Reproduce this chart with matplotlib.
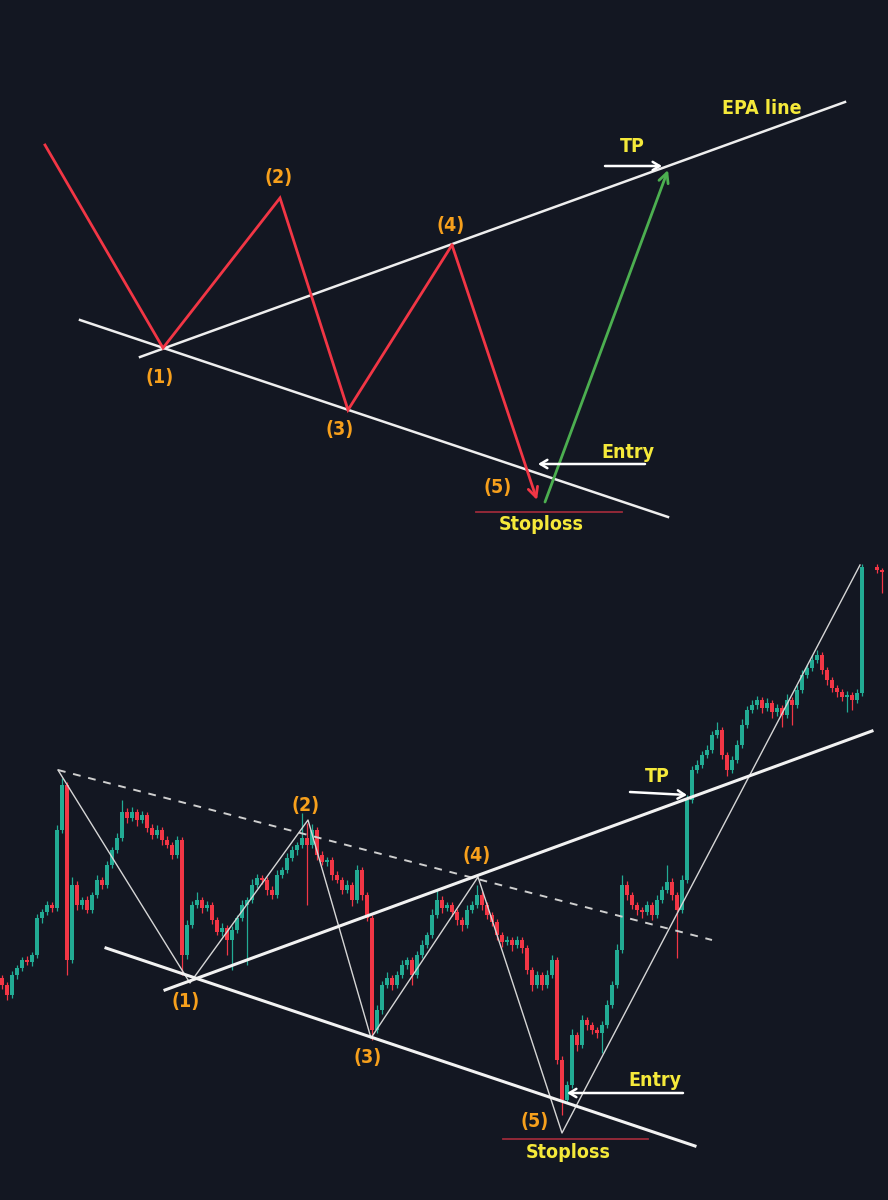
import matplotlib.pyplot as plt

# --- colours ---
bg = '#131722'
up_col = '#22ab94'
dn_col = '#f23645'
orange = '#f7a01c'
yellow = '#f5e93a'
sl_col = '#9c2a3a'
fnt = ['Liberation Sans Narrow', 'DejaVu Sans']

# --- top schematic (image pixel coords) ---
wave_x = [45, 163, 280, 348, 452, 537]
wave_y = [145, 348, 198, 410, 245, 500]
breakout_x = [545, 668]
breakout_y = [502, 170]
epa_x = [140, 845]
epa_y = [357, 102]
support_x = [80, 668]
support_y = [320, 517]
top_labels = ['(1)', '(2)', '(3)', '(4)', '(5)']
top_label_x = [160, 279, 340, 451, 498]
top_label_y = [377, 178, 430, 226, 488]

# --- bottom chart: candle closes (pixel y, smaller = higher price) ---
first_open = 978
closes = [985, 995, 975, 968, 960, 962, 955, 918, 912, 905,
          908, 830, 785, 960, 885, 905, 900, 910, 895, 880,
          885, 865, 850, 838, 812, 818, 812, 820, 815, 828,
          835, 830, 840, 845, 855, 840, 955, 925, 905, 900,
          908, 905, 920, 932, 928, 940, 930, 918, 905, 900,
          885, 878, 880, 890, 895, 875, 870, 858, 850, 845,
          838, 845, 830, 855, 862, 860, 875, 880, 890, 885,
          900, 870, 895, 918, 1030, 1010, 985, 978, 985, 975,
          965, 960, 975, 955, 945, 935, 915, 900, 908, 905,
          912, 920, 925, 910, 905, 895, 905, 915, 922, 935,
          942, 940, 945, 940, 948, 970, 985, 975, 985, 975,
          960, 1060, 1100, 1085, 1035, 1045, 1020, 1025, 1030, 1033,
          1025, 1005, 985, 950, 885, 895, 905, 910, 912, 905,
          915, 900, 890, 882, 895, 910, 880, 800, 770, 765,
          755, 750, 735, 730, 755, 770, 760, 745, 725, 710,
          705, 700, 708, 703, 712, 708, 715, 700, 705, 690,
          675, 668, 660, 655, 670, 680, 688, 692, 697, 695,
          700, 693, 567, None, None, 570, 572]
wick_up = [3, 3, 4, 3, 3, 4, 3, 4, 3, 4,
           3, 5, 7, 3, 8, 4, 3, 4, 3, 5,
           3, 4, 3, 5, 12, 4, 5, 3, 4, 3,
           4, 5, 3, 4, 3, 4, 3, 5, 4, 8,
           3, 4, 3, 3, 5, 3, 4, 3, 5, 3,
           6, 4, 3, 3, 4, 5, 3, 5, 4, 3,
           25, 15, 6, 3, 4, 3, 3, 4, 3, 5,
           3, 5, 3, 3, 3, 5, 4, 6, 3, 4,
           5, 3, 3, 4, 5, 3, 6, 10, 4, 3,
           3, 3, 3, 5, 4, 10, 4, 3, 3, 3,
           3, 4, 3, 4, 3, 3, 3, 4, 3, 5,
           5, 3, 4, 4, 6, 3, 5, 3, 3, 3,
           4, 5, 4, 6, 10, 4, 3, 3, 3, 4,
           3, 5, 4, 17, 4, 3, 5, 5, 4, 5,
           4, 5, 4, 8, 3, 3, 4, 5, 6, 4,
           5, 4, 3, 5, 3, 4, 3, 6, 3, 5,
           5, 4, 5, 5, 3, 3, 3, 3, 3, 4,
           3, 4, 3, 0, 0, 3, 2]
wick_dn = [4, 5, 3, 4, 3, 3, 4, 3, 5, 3,
           4, 3, 3, 15, 3, 5, 4, 3, 3, 3,
           4, 3, 3, 3, 3, 5, 3, 6, 3, 4,
           4, 3, 5, 3, 4, 3, 20, 4, 3, 3,
           5, 3, 4, 3, 4, 15, 30, 3, 3, 60,
           3, 3, 4, 5, 4, 3, 3, 3, 3, 5,
           3, 60, 3, 5, 3, 4, 5, 3, 4, 3,
           6, 3, 5, 3, 10, 3, 4, 3, 5, 3,
           3, 4, 10, 3, 3, 3, 3, 3, 5, 3,
           4, 5, 6, 3, 3, 3, 5, 4, 4, 5,
           5, 3, 6, 3, 5, 4, 6, 3, 5, 3,
           3, 4, 15, 3, 3, 6, 3, 5, 4, 5,
           20, 3, 3, 3, 3, 5, 4, 5, 6, 3,
           5, 3, 3, 3, 5, 48, 3, 3, 3, 3,
           3, 3, 3, 3, 4, 6, 3, 3, 3, 3,
           3, 4, 5, 3, 6, 4, 12, 3, 20, 3,
           3, 3, 3, 3, 4, 5, 4, 5, 4, 15,
           10, 3, 3, 0, 0, 3, 21]

# pattern lines on the bottom chart (pixel coords)
dash_x = [58, 712]
dash_y = [770, 940]
zig_x = [58, 190, 308, 371, 478, 562, 860]
zig_y = [770, 983, 820, 1038, 877, 1133, 565]
upper_x = [165, 872]
upper_y = [990, 731]
lower_x = [106, 695]
lower_y = [948, 1146]
bot_labels = ['(1)', '(2)', '(3)', '(4)', '(5)']
bot_label_x = [186, 306, 368, 477, 535]
bot_label_y = [1001, 805, 1057, 855, 1122]

plt.rcParams['font.stretch'] = 'condensed'

fig = plt.figure(figsize=(8.88, 12), dpi=100)
fig.patch.set_facecolor(bg)

# ================= top panel =================
ax1 = fig.add_axes([0, 1 - 560 / 1200, 1, 560 / 1200])
ax1.set_facecolor('#12161f')
ax1.set_xlim(0, 888)
ax1.set_ylim(560, 0)
ax1.axis('off')

ax1.plot(epa_x, epa_y, color='#eeeeee', lw=1.8)
ax1.plot(support_x, support_y, color='#eeeeee', lw=1.8)
ax1.plot(wave_x[:-1], wave_y[:-1], color=dn_col, lw=2, solid_joinstyle='miter')
ax1.annotate('', xy=(wave_x[-1], wave_y[-1]), xytext=(wave_x[-2], wave_y[-2]),
             arrowprops=dict(arrowstyle='->,head_length=0.7,head_width=0.35',
                             color=dn_col, lw=2, shrinkA=0, shrinkB=0))
ax1.annotate('', xy=(breakout_x[1], breakout_y[1]), xytext=(breakout_x[0], breakout_y[0]),
             arrowprops=dict(arrowstyle='->,head_length=0.7,head_width=0.35',
                             color='#4caf50', lw=2, shrinkA=0, shrinkB=0))
ax1.annotate('', xy=(662, 166), xytext=(605, 166),
             arrowprops=dict(arrowstyle='->,head_length=0.5,head_width=0.3',
                             color='white', lw=1.8, shrinkA=0, shrinkB=0))
ax1.annotate('', xy=(538, 464), xytext=(645, 464),
             arrowprops=dict(arrowstyle='->,head_length=0.5,head_width=0.3',
                             color='white', lw=1.8, shrinkA=0, shrinkB=0))
ax1.plot([476, 622], [512, 512], color=sl_col, lw=1.3)

for t, x, y in zip(top_labels, top_label_x, top_label_y):
    ax1.text(x, y, t, color=orange, fontsize=14, fontweight='bold',
             family=fnt, ha='center', va='center')
ax1.text(632, 147, 'TP', color=yellow, fontsize=14, fontweight='bold', family=fnt, ha='center', va='center')
ax1.text(628, 452, 'Entry', color=yellow, fontsize=14, fontweight='bold', family=fnt, ha='center', va='center')
ax1.text(762, 108, 'EPA line', color=yellow, fontsize=14, fontweight='bold', family=fnt, ha='center', va='center')
ax1.text(541, 524, 'Stoploss', color=yellow, fontsize=14, fontweight='bold', family=fnt, ha='center', va='center')

# ================= bottom panel =================
ax2 = fig.add_axes([0, 0, 1, 640 / 1200])
ax2.set_facecolor(bg)
ax2.set_xlim(0, 888)
ax2.set_ylim(1200, 560)
ax2.axis('off')

step = 5
prev = first_open
for i, c in enumerate(closes):
    if c is None:
        continue
    o = prev
    x = 2 + step * i
    top = min(o, c)
    bot = max(o, c)
    col = up_col if c < o else dn_col
    ax2.vlines(x, top - wick_up[i], bot + wick_dn[i], color=col, lw=0.9, zorder=2)
    ax2.bar(x, max(bot - top, 1.5), bottom=top, width=3.4, color=col, lw=0, zorder=3)
    prev = c

ax2.plot(dash_x, dash_y, color='#cfcfcf', lw=1.4, ls=(0, (4, 4)), zorder=4)
ax2.plot(zig_x, zig_y, color='#d6d6d6', lw=1.0, zorder=4)
ax2.plot(upper_x, upper_y, color='#f2f2f2', lw=2.2, zorder=5)
ax2.plot(lower_x, lower_y, color='#f2f2f2', lw=2.2, zorder=5)
ax2.annotate('', xy=(687, 795), xytext=(630, 792),
             arrowprops=dict(arrowstyle='->,head_length=0.5,head_width=0.3',
                             color='white', lw=1.8, shrinkA=0, shrinkB=0), zorder=6)
ax2.annotate('', xy=(567, 1093), xytext=(683, 1093),
             arrowprops=dict(arrowstyle='->,head_length=0.5,head_width=0.3',
                             color='white', lw=1.8, shrinkA=0, shrinkB=0), zorder=6)
ax2.plot([503, 648], [1139, 1139], color=sl_col, lw=1.3)

for t, x, y in zip(bot_labels, bot_label_x, bot_label_y):
    ax2.text(x, y, t, color=orange, fontsize=14, fontweight='bold',
             family=fnt, ha='center', va='center')
ax2.text(657, 776, 'TP', color=yellow, fontsize=14, fontweight='bold', family=fnt, ha='center', va='center')
ax2.text(655, 1080, 'Entry', color=yellow, fontsize=14, fontweight='bold', family=fnt, ha='center', va='center')
ax2.text(568, 1153, 'Stoploss', color=yellow, fontsize=14, fontweight='bold', family=fnt, ha='center', va='center')

fig.savefig('out.png', dpi=100, facecolor=bg)
